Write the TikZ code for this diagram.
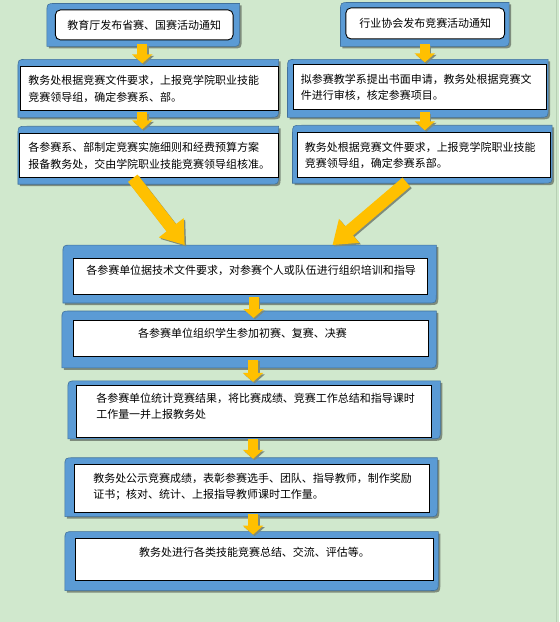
\documentclass[tikz,border=0pt]{standalone}
\usepackage{fontspec}
\newfontfamily\zhfont{Noto Sans CJK SC}
\usetikzlibrary{arrows.meta, calc}
\definecolor{pagegreen}{HTML}{D0E8CD}
\definecolor{edgegreen}{HTML}{B7D0B4}
\definecolor{frameblue}{HTML}{5B9BD5}
\definecolor{framedraw}{HTML}{41719C}
\definecolor{shade}{HTML}{7E8C7C}
\definecolor{arrowgold}{HTML}{FFC000}
\tikzset{
  panel/.style      = {rectangle, anchor=north west, inner sep=0pt, outer sep=0pt},
  panelfill/.style  = {fill=frameblue, draw=framedraw, line width=0.6pt},
  panelshade/.style = {fill=shade, transform canvas={shift={(2pt,-2pt)}}},
  stepbox/.style    = {rectangle, draw=black, line width=0.9pt, fill=white, anchor=north west,
                       inner sep=0pt, align=left, font=\zhfont\fontsize{11}{16.5}\selectfont},
  notice/.style     = {stepbox, rounded corners=5pt, align=center},
  lift/.style       = {text depth=#1},
  flow/.style       = {-{Triangle[width=20pt, length=9pt]}, line width=10pt, draw=arrowgold},
  bigflow/.style    = {-{Triangle[width=30pt, length=22pt]}, line width=12pt, draw=arrowgold},
  flowshade/.style  = {draw=shade, transform canvas={shift={(1.5pt,-1.5pt)}}},
}
% blue panel: rounded top-left and bottom-right corners
\newcommand{\paneloutline}[1]{(#1.south west) -- ($(#1.north west)+(0,9)$) .. controls (#1.north west) .. ($(#1.north west)+(9,0)$)
  -- (#1.north east) -- ($(#1.south east)+(0,-9)$) .. controls (#1.south east) .. ($(#1.south east)+(-9,0)$) -- cycle}
\newcommand{\drawpanel}[1]{\fill[panelshade] \paneloutline{#1}; \path[panelfill] \paneloutline{#1};}

\begin{document}
\begin{tikzpicture}[x=1pt, y=-1pt]

% ---- Page ----
\fill[pagegreen] (0,0) rectangle (560,622);
\draw[edgegreen, line width=1pt] (557.5,0) -- (557.5,622);
\useasboundingbox (0,0) rectangle (560,622);

% ---- Notices ----
\node[panel, minimum width=193pt, minimum height=43pt] (f1) at (47,3) {};
\drawpanel{f1}
\node[notice, minimum width=178pt, minimum height=30pt] (s1) at (55,9) {教育厅发布省赛、国赛活动通知};

\node[panel, minimum width=169pt, minimum height=44pt] (f2) at (341,2) {};
\drawpanel{f2}
\node[notice, minimum width=159pt, minimum height=31pt] (s2) at (346,7) {行业协会发布竞赛活动通知};

% ---- Left branch ----
\node[panel, minimum width=261pt, minimum height=58pt] (f3) at (18,59) {};
\drawpanel{f3}
\node[stepbox, minimum width=258pt, minimum height=44pt, text width=242pt] (s3) at (20,66)
  {教务处根据竞赛文件要求，上报竞学院职业技能\\竞赛领导组，确定参赛系、部。};

\node[panel, minimum width=261pt, minimum height=58pt] (f4) at (18,126) {};
\drawpanel{f4}
\node[stepbox, minimum width=259pt, minimum height=44pt, text width=241pt] (s4) at (19,133)
  {各参赛系、部制定竞赛实施细则和经费预算方案\\报备教务处，交由学院职业技能竞赛领导组核准。};

% ---- Right branch ----
\node[panel, minimum width=261pt, minimum height=58pt] (f5) at (288,59) {};
\drawpanel{f5}
\node[stepbox, minimum width=254pt, minimum height=45pt, text width=238pt] (s5) at (293,64)
  {拟参赛教学系提出书面申请，教务处根据竞赛文\\件进行审核，核定参赛项目。};

\node[panel, minimum width=260pt, minimum height=58pt] (f6) at (293,125) {};
\drawpanel{f6}
\node[stepbox, minimum width=254pt, minimum height=45pt, text width=238pt] (s6) at (297,132)
  {教务处根据竞赛文件要求，上报竞学院职业技能\\竞赛领导组，确定参赛系部。};

% ---- Common steps ----
\node[panel, minimum width=374pt, minimum height=58pt] (f7) at (63,245) {};
\drawpanel{f7}
\node[stepbox, minimum width=355pt, minimum height=36pt, text width=329pt, lift=13pt] (s7) at (73,258)
  {各参赛单位据技术文件要求，对参赛个人或队伍进行组织培训和指导};

\node[panel, minimum width=375pt, minimum height=57pt] (f8) at (62,311) {};
\drawpanel{f8}
\node[stepbox, minimum width=356pt, minimum height=36pt, text width=226pt, lift=11pt] (s8) at (73,320)
  {各参赛单位组织学生参加初赛、复赛、决赛};

\node[panel, minimum width=373pt, minimum height=58pt] (f9) at (68,381) {};
\drawpanel{f9}
\node[stepbox, minimum width=356pt, minimum height=52pt, text width=316pt, lift=27.5pt] (s9) at (76,385)
  {各参赛单位统计竞赛结果，将比赛成绩、竞赛工作总结和指导课时\\工作量一并上报教务处};

\node[panel, minimum width=373pt, minimum height=59pt] (f10) at (65,458) {};
\drawpanel{f10}
\node[stepbox, minimum width=356pt, minimum height=48pt, text width=318pt, lift=21.5pt] (s10) at (74,464)
  {教务处公示竞赛成绩，表彰参赛选手、团队、指导教师，制作奖励\\证书；核对、统计、上报指导教师课时工作量。};

\node[panel, minimum width=374pt, minimum height=59pt] (f11) at (65,532) {};
\drawpanel{f11}
\node[stepbox, minimum width=359pt, minimum height=42pt, text width=231pt, lift=15pt] (s11) at (75,538)
  {教务处进行各类技能竞赛总结、交流、评估等。};

% ===== Arrows =====
\foreach \sh in {flowshade, }{
  \draw[flow, \sh] ($(f1.south)+(-1,-2)$) -- ($(f1.south |- s3.north)+(-1,-3)$);
  \draw[flow, \sh] ($(s3.south -| f1.south)+(-1,1)$) -- ($(f4.north -| f1.south)+(-1,3)$);
  \draw[flow, \sh] ($(f2.south)+(0,-2)$) -- ($(f2.south |- s5.north)+(0,-2)$);
  \draw[flow, \sh] ($(s5.south -| f2.south)+(0,2)$) -- ($(f6.north -| f2.south)+(0,5)$);
  \draw[bigflow, \sh] ($(f4.south west)+(115,-6)$) -- ($(f7.north west)+(122,0)$);
  \draw[bigflow, \sh] ($(f6.south west)+(114,-1)$) -- ($(f7.north east)+(-104,0)$);
  \draw[flow, \sh] ($(s7.south)+(3,2)$) -- ($(s7.south |- s8.north)+(3,-2)$);
  \draw[flow, \sh] ($(s8.south)+(2,3)$) -- ($(s8.south |- s9.north)+(2,-3)$);
  \draw[flow, \sh] ($(s9.south)+(-1,1)$) -- ($(s9.south |- s10.north)+(-1,-5)$);
  \draw[flow, \sh] ($(s10.south)+(1,1)$) -- ($(s10.south |- s11.north)+(1,-3)$);
}

\end{tikzpicture}
\end{document}
